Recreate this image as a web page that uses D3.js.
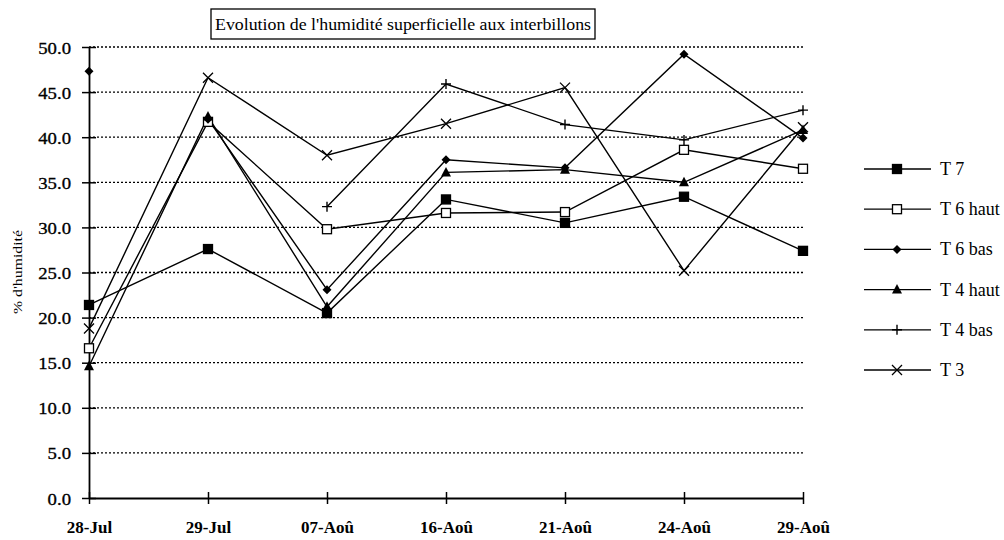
<!DOCTYPE html>
<html><head><meta charset="utf-8">
<script src="https://cdn.jsdelivr.net/npm/d3@7"></script>
<style>body{margin:0;background:#fff}svg{display:block}</style>
</head><body><svg id="c" width="1004" height="540"></svg>
<script>
const categories = ["28-Jul","29-Jul","07-Aoû","16-Aoû","21-Aoû","24-Aoû","29-Aoû"];
const seriesNames = ["T 7","T 6 haut","T 6 bas","T 4 haut","T 4 bas","T 3"];
const t7     = [21.4, 27.6, 20.5, 33.1, 30.5, 33.4, 27.4];
const t6haut = [16.6, 41.7, 29.8, 31.6, 31.7, 38.6, 36.5];
const t6bas  = [47.3, 42.0, 23.1, 37.5, 36.6, 49.2, 39.9];
const t4haut = [14.6, 42.3, 21.2, 36.1, 36.4, 35.0, 40.8];
const t4bas  = [null, null, 32.3, 45.9, 41.4, 39.7, 43.0];
const t3     = [18.8, 46.6, 38.0, 41.5, 45.5, 25.2, 41.1];
const lineStart = [0, 0, 1, 0, 2, 0];   // first index joined by the line
const yTicks = [0,5,10,15,20,25,30,35,40,45,50];
const title = "Evolution de l'humidité superficielle aux interbillons";
const yLabel = "% d'humidité";

const seriesValues = [t7, t6haut, t6bas, t4haut, t4bas, t3];
const markers = ["sqFill","sqOpen","diamond","triangle","plus","cross"];
const FONT = "'Liberation Serif', 'Times New Roman', serif";

const svg = d3.select("#c");
const L = 89, R = 803, T = 47, B = 498;
const x = d3.scalePoint().domain(categories).range([L, R]);
const y = d3.scaleLinear().domain([0, 50]).range([B, T]);

// grid
svg.append("g").selectAll("line").data(yTicks.filter(d => d > 0)).join("line")
  .attr("x1", L).attr("x2", R).attr("y1", d => y(d)).attr("y2", d => y(d))
  .attr("stroke", "#000").attr("stroke-width", 1.3).attr("stroke-dasharray", "2,2");

// y axis
const ya = svg.append("g").attr("transform", `translate(${L},0)`)
  .call(d3.axisLeft(y).tickValues(yTicks).tickFormat(d3.format(".1f")).tickSize(0));
ya.select(".domain").attr("stroke", "#000").attr("stroke-width", 1.8);
ya.selectAll(".tick line").attr("x1", -7).attr("x2", 7).attr("stroke", "#000").attr("stroke-width", 1.5);
ya.selectAll(".tick text").attr("x", null).attr("dy", null)
  .attr("transform", "translate(-18,6) scale(1.17,1)")
  .attr("font-size", 16).style("font-family", FONT)
  .attr("fill", "#000").attr("stroke", "#000").attr("stroke-width", 0.3);

// x axis
const xa = svg.append("g").attr("transform", `translate(0,${B})`)
  .call(d3.axisBottom(x).tickSize(0));
xa.select(".domain").attr("stroke", "#000").attr("stroke-width", 1.8);
xa.selectAll(".tick line").attr("y1", -6).attr("y2", 6).attr("stroke", "#000").attr("stroke-width", 1.5);
xa.selectAll(".tick text").attr("y", 35).attr("dy", null).attr("font-size", 17).attr("font-weight", "bold")
  .style("font-family", FONT).attr("fill", "#000");

// title
svg.append("rect").attr("x", 211).attr("y", 9).attr("width", 384).attr("height", 30)
  .attr("fill", "#fff").attr("stroke", "#000").attr("stroke-width", 1.3);
svg.append("text").attr("x", 215).attr("y", 30)
  .attr("textLength", 376).attr("lengthAdjust", "spacingAndGlyphs")
  .style("font-family", FONT).attr("font-size", 16).attr("fill", "#000").text(title);

// y label
svg.append("text").attr("transform", "translate(22,272) rotate(-90)")
  .attr("text-anchor", "middle").attr("textLength", 84).attr("lengthAdjust", "spacingAndGlyphs")
  .style("font-family", FONT).attr("font-size", 13).attr("fill", "#000").text(yLabel);

function drawMarker(g, type, cx, cy) {
  if (type === "sqFill" || type === "sqOpen") {
    g.append("rect").attr("x", cx - 4.5).attr("y", cy - 4.5).attr("width", 9).attr("height", 9)
      .attr("fill", type === "sqFill" ? "#000" : "#fff").attr("stroke", "#000").attr("stroke-width", 1.3);
  } else if (type === "diamond") {
    g.append("path").attr("d", `M${cx},${cy-4.5}L${cx+4.5},${cy}L${cx},${cy+4.5}L${cx-4.5},${cy}Z`).attr("fill", "#000");
  } else if (type === "triangle") {
    g.append("path").attr("d", `M${cx},${cy-5.5}L${cx+5},${cy+4}L${cx-5},${cy+4}Z`).attr("fill", "#000");
  } else if (type === "plus") {
    g.append("path").attr("d", `M${cx-5},${cy}H${cx+5}M${cx},${cy-5}V${cy+5}`).attr("stroke", "#000").attr("stroke-width", 1.4);
  } else if (type === "cross") {
    g.append("path").attr("d", `M${cx-5},${cy-5}L${cx+5},${cy+5}M${cx+5},${cy-5}L${cx-5},${cy+5}`).attr("stroke", "#000").attr("stroke-width", 1.3);
  }
}

const line = d3.line().defined(d => d.v != null).x(d => x(d.c)).y(d => y(d.v));
seriesValues.forEach((vals, si) => {
  const pts = vals.map((v, i) => ({c: categories[i], v, i}));
  svg.append("path").datum(pts.filter(p => p.i >= lineStart[si]))
    .attr("d", line).attr("fill", "none").attr("stroke", "#000").attr("stroke-width", 1.4);
});
seriesValues.forEach((vals, si) => {
  const g = svg.append("g");
  vals.forEach((v, i) => { if (v != null) drawMarker(g, markers[si], x(categories[i]), y(v)); });
});

// legend
const legY = d3.scalePoint().domain(seriesNames).range([169, 370]);
seriesNames.forEach((n, si) => {
  const g = svg.append("g");
  const yy = legY(n);
  g.append("line").attr("x1", 864).attr("x2", 931).attr("y1", yy).attr("y2", yy).attr("stroke", "#000").attr("stroke-width", 1.3);
  drawMarker(g, markers[si], 897, yy);
  g.append("text").attr("x", 940).attr("y", yy + 6).style("font-family", FONT).attr("font-size", 18)
    .attr("fill", "#000").text(n);
});
</script></body></html>
